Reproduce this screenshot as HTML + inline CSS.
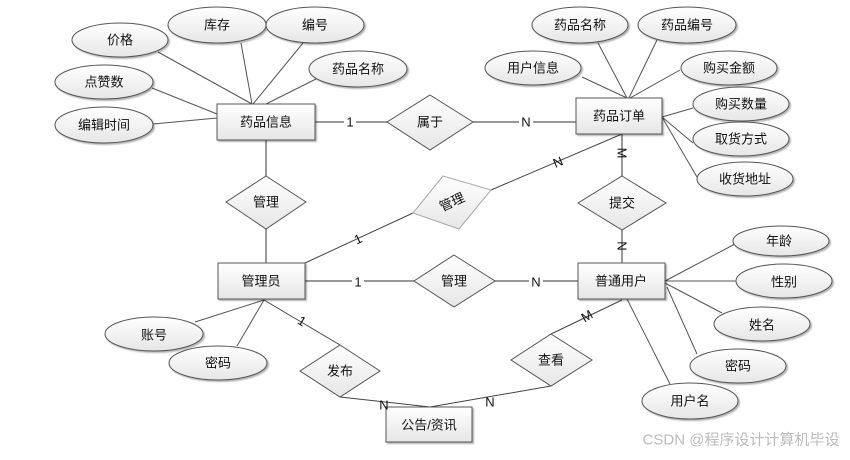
<!DOCTYPE html>
<html><head><meta charset="utf-8"><style>
html,body{margin:0;padding:0;background:#fff;}
svg text{font-family:"Liberation Sans","Noto Sans CJK SC",sans-serif;font-size:13px;fill:#111;text-anchor:middle;dominant-baseline:central;}
</style></head><body>
<svg width="850" height="455" viewBox="0 0 850 455" xmlns="http://www.w3.org/2000/svg">
<defs>
<linearGradient id="g" x1="0" y1="0" x2="0" y2="1"><stop offset="0" stop-color="#ffffff"/><stop offset="1" stop-color="#e6e6e6"/></linearGradient>
<filter id="s" x="-20%" y="-20%" width="150%" height="150%"><feDropShadow dx="1.5" dy="1.5" stdDeviation="0.8" flood-color="#000" flood-opacity="0.3"/></filter>
</defs>
<g stroke="#555" stroke-width="1" fill="none">
<line x1="158" y1="52" x2="252" y2="104"/>
<line x1="241" y1="43" x2="252" y2="104"/>
<line x1="303" y1="43" x2="253" y2="104"/>
<line x1="316" y1="79" x2="266" y2="104"/>
<line x1="152" y1="88" x2="217" y2="114"/>
<line x1="153" y1="124" x2="217" y2="118"/>
<line x1="598" y1="43" x2="627" y2="98"/>
<line x1="657" y1="40" x2="629" y2="98"/>
<line x1="582" y1="77" x2="627" y2="98"/>
<line x1="680" y1="70" x2="630" y2="98"/>
<line x1="693" y1="108" x2="662" y2="117"/>
<line x1="693" y1="143" x2="662" y2="117"/>
<line x1="697" y1="177" x2="662" y2="117"/>
<line x1="735" y1="244" x2="665" y2="281"/>
<line x1="736" y1="281" x2="665" y2="281"/>
<line x1="722" y1="313" x2="665" y2="283"/>
<line x1="697" y1="354" x2="667" y2="287"/>
<line x1="670" y1="384" x2="627" y2="299"/>
<line x1="264" y1="300" x2="195" y2="322"/>
<line x1="264" y1="300" x2="237" y2="346"/>
</g>
<g stroke="#777" stroke-width="1.5" fill="none">
<line x1="315" y1="122" x2="387" y2="122"/>
<line x1="473" y1="122" x2="576" y2="122"/>
<line x1="266" y1="140" x2="266" y2="176"/>
<line x1="266" y1="229" x2="266" y2="263"/>
<line x1="622" y1="134" x2="622" y2="176"/>
<line x1="622" y1="230" x2="622" y2="263"/>
<line x1="305" y1="281" x2="414" y2="281"/>
<line x1="495" y1="281" x2="578" y2="281"/>
</g>
<g stroke="#444" stroke-width="1" fill="none">
<line x1="305" y1="263" x2="413" y2="213"/>
<line x1="491" y1="190" x2="622" y2="134"/>
<line x1="264" y1="300" x2="340" y2="345"/>
<line x1="340" y1="397" x2="430" y2="407"/>
<line x1="622" y1="300" x2="551" y2="334"/>
<line x1="551" y1="386" x2="430" y2="407"/>
</g>
<g fill="url(#g)" stroke="#555" filter="url(#s)">
<ellipse cx="120" cy="40" rx="48" ry="17"/>
<ellipse cx="217" cy="25" rx="49" ry="18"/>
<ellipse cx="315" cy="25" rx="49" ry="18"/>
<ellipse cx="358" cy="69" rx="49" ry="18"/>
<ellipse cx="104" cy="82" rx="49" ry="17"/>
<ellipse cx="104" cy="125" rx="49" ry="18"/>
<ellipse cx="580" cy="25" rx="48" ry="18"/>
<ellipse cx="687" cy="25" rx="49" ry="18"/>
<ellipse cx="533" cy="68" rx="48" ry="17"/>
<ellipse cx="729" cy="68" rx="48" ry="17"/>
<ellipse cx="741" cy="104" rx="48" ry="17"/>
<ellipse cx="741" cy="139" rx="48" ry="17"/>
<ellipse cx="745" cy="179" rx="48" ry="17"/>
<ellipse cx="781" cy="241" rx="48" ry="15"/>
<ellipse cx="784" cy="281" rx="48" ry="17"/>
<ellipse cx="762" cy="324" rx="48" ry="17"/>
<ellipse cx="738" cy="366" rx="48" ry="17"/>
<ellipse cx="690" cy="401" rx="48" ry="18"/>
<ellipse cx="154" cy="334" rx="49" ry="17"/>
<ellipse cx="218" cy="363" rx="49" ry="17"/>
</g>
<g fill="url(#g)" stroke="#555" filter="url(#s)">
<rect x="217" y="104" width="98" height="36"/>
<rect x="576" y="98" width="86" height="36"/>
<rect x="218" y="263" width="87" height="36"/>
<rect x="578" y="263" width="87" height="36"/>
<rect x="386" y="407" width="86" height="35"/>
</g>
<g fill="url(#g)" stroke="#555">
<polygon points="430,95 473,122 430,150 387,122"/>
<polygon points="266,176 306,202 266,229 226,202"/>
<polygon points="622,176 666,203 622,230 578,203"/>
<polygon points="454,255 495,281 454,307 414,281"/>
<polygon points="340,345 380,371 340,397 300,371"/>
<polygon points="551,334 592,360 551,386 511,360"/>
</g>
<polygon points="443,176 491,190 459,229 413,213" fill="url(#g)" stroke="#aaa"/>
<text x="120" y="40">价格</text>
<text x="217" y="25">库存</text>
<text x="315" y="25">编号</text>
<text x="358" y="69">药品名称</text>
<text x="104" y="82">点赞数</text>
<text x="104" y="125">编辑时间</text>
<text x="580" y="25">药品名称</text>
<text x="687" y="25">药品编号</text>
<text x="533" y="68">用户信息</text>
<text x="729" y="68">购买金额</text>
<text x="741" y="104">购买数量</text>
<text x="741" y="139">取货方式</text>
<text x="745" y="179">收货地址</text>
<text x="779" y="241">年龄</text>
<text x="784" y="282">性别</text>
<text x="762" y="325">姓名</text>
<text x="738" y="366">密码</text>
<text x="690" y="401">用户名</text>
<text x="154" y="335">账号</text>
<text x="218" y="363">密码</text>
<text x="266" y="122">药品信息</text>
<text x="619" y="116">药品订单</text>
<text x="261" y="281">管理员</text>
<text x="621" y="281">普通用户</text>
<text x="429" y="425">公告/资讯</text>
<text x="430" y="122">属于</text>
<text x="266" y="202">管理</text>
<text x="622" y="203">提交</text>
<text x="454" y="281">管理</text>
<text x="340" y="371">发布</text>
<text x="551" y="360">查看</text>
<text x="452" y="202" transform="rotate(-25 452 202)">管理</text>
<g>
<rect x="344" y="114" width="12" height="16" fill="#fff"/><text x="350" y="122">1</text>
<rect x="519" y="114" width="14" height="16" fill="#fff"/><text x="526" y="122">N</text>
<rect x="352" y="274" width="12" height="16" fill="#fff"/><text x="358" y="282">1</text>
<rect x="529" y="274" width="14" height="16" fill="#fff"/><text x="536" y="282">N</text>
<text x="622" y="153" transform="rotate(90 622 153)">M</text>
<text x="622" y="246" transform="rotate(90 622 246)">N</text>
<text x="358" y="239" transform="rotate(-25 358 239)">1</text>
<text x="558" y="162" transform="rotate(-23 558 162)">N</text>
<text x="302" y="321" transform="rotate(30 302 321)">1</text>
<text x="384" y="405">N</text>
<text x="490" y="402">N</text>
<text x="587" y="316" transform="rotate(-30 587 316)">M</text>
</g>
<text x="741" y="440" style="font-size:15px;fill:#bbb">CSDN @程序设计计算机毕设</text>
</svg>
</body></html>
